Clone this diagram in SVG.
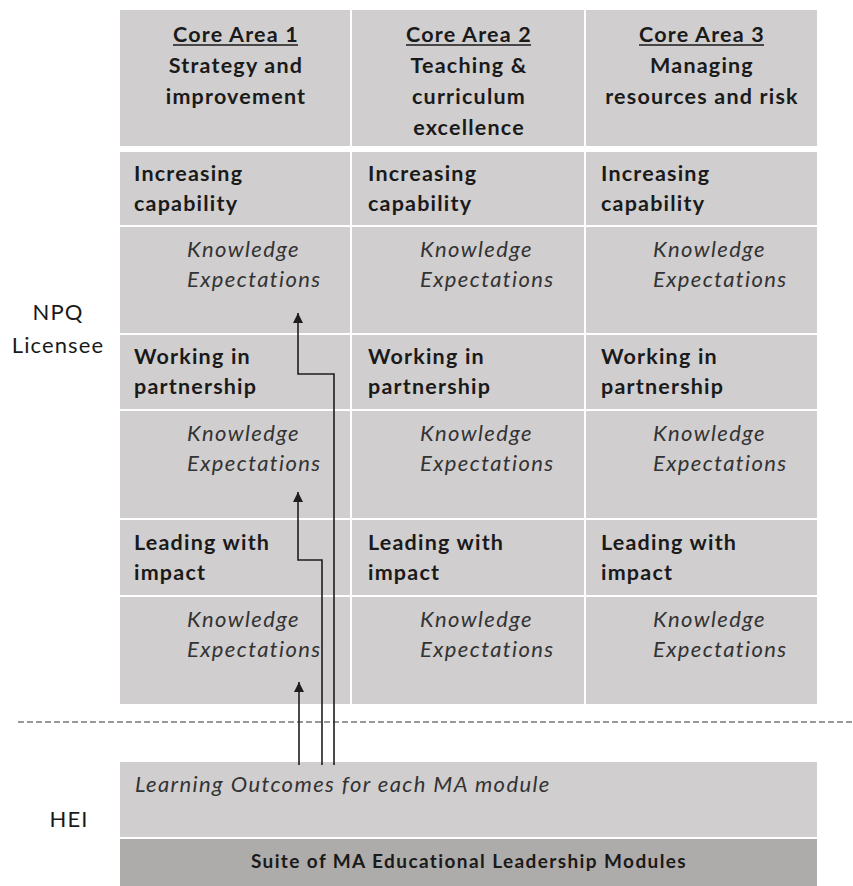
<svg xmlns="http://www.w3.org/2000/svg" width="853" height="886" viewBox="0 0 853 886">
  <style>
    .cell { fill: #d0cecf; }
    .dark { fill: #aeabab; }
    .hd { font-family: Lato, "Liberation Sans", sans-serif; font-weight: bold; font-size: 21.5px; letter-spacing: 1.2px; fill: #1a1a1a; text-anchor: middle; }
    .lbl { font-family: Lato, "Liberation Sans", sans-serif; font-weight: bold; font-size: 21.5px; letter-spacing: 1.2px; fill: #1a1a1a; }
    .ke { font-family: Lato, "Liberation Sans", sans-serif; font-style: italic; font-size: 22px; letter-spacing: 1.4px; fill: #333; }
    .suite { font-family: Lato, "Liberation Sans", sans-serif; font-weight: bold; font-size: 19px; letter-spacing: 1.4px; fill: #1a1a1a; text-anchor: middle; }
    .side { font-family: Lato, "Liberation Sans", sans-serif; font-size: 22px; letter-spacing: 1.1px; fill: #1a1a1a; text-anchor: middle; }
    .ul { stroke: #1a1a1a; stroke-width: 1.5; }
    .conn { fill: none; stroke: #1e1e1e; stroke-width: 1.6; }
    .sep { stroke: #333; stroke-width: 1.2; stroke-dasharray: 6 3; }
  </style>
  <defs>
    <marker id="arrow" markerUnits="userSpaceOnUse" markerWidth="10" markerHeight="10" refX="10" refY="5" orient="auto">
      <path d="M0,0 L10,5 L0,10 z" fill="#1e1e1e"/>
    </marker>
  </defs>
  <rect width="853" height="886" fill="#ffffff"/>

  <!-- side labels -->
  <g id="label-npq">
    <text class="side" x="58" y="320">NPQ</text>
    <text class="side" x="58" y="353">Licensee</text>
  </g>
  <g id="label-hei">
    <text class="side" x="69" y="827">HEI</text>
  </g>

  <!-- header row -->
  <g id="core-area-1">
    <rect class="cell" x="120" y="10" width="230" height="136"/>
    <text class="hd" x="236" y="42">Core Area 1</text>
    <line class="ul" x1="173" y1="45" x2="298" y2="45"/>
    <text class="hd" x="236" y="73">Strategy and</text>
    <text class="hd" x="236" y="104">improvement</text>
  </g>
  <g id="core-area-2">
    <rect class="cell" x="352" y="10" width="232" height="136"/>
    <text class="hd" x="469" y="42">Core Area 2</text>
    <line class="ul" x1="406" y1="45" x2="531" y2="45"/>
    <text class="hd" x="469" y="73">Teaching &amp;</text>
    <text class="hd" x="469" y="104">curriculum</text>
    <text class="hd" x="469" y="135">excellence</text>
  </g>
  <g id="core-area-3">
    <rect class="cell" x="586" y="10" width="231" height="136"/>
    <text class="hd" x="702" y="42">Core Area 3</text>
    <line class="ul" x1="639" y1="45" x2="764" y2="45"/>
    <text class="hd" x="702" y="73">Managing</text>
    <text class="hd" x="702" y="104">resources and risk</text>
  </g>

  <!-- Increasing capability -->
  <g id="ic-1"><rect class="cell" x="120" y="152" width="230" height="73"/>
    <text class="lbl" x="134" y="181">Increasing</text><text class="lbl" x="134" y="211">capability</text></g>
  <g id="ic-2"><rect class="cell" x="352" y="152" width="232" height="73"/>
    <text class="lbl" x="368" y="181">Increasing</text><text class="lbl" x="368" y="211">capability</text></g>
  <g id="ic-3"><rect class="cell" x="586" y="152" width="231" height="73"/>
    <text class="lbl" x="601" y="181">Increasing</text><text class="lbl" x="601" y="211">capability</text></g>
  <g id="ic-ke-1"><rect class="cell" x="120" y="227" width="230" height="106"/>
    <text class="ke" x="187" y="257">Knowledge</text><text class="ke" x="187" y="287">Expectations</text></g>
  <g id="ic-ke-2"><rect class="cell" x="352" y="227" width="232" height="106"/>
    <text class="ke" x="420" y="257">Knowledge</text><text class="ke" x="420" y="287">Expectations</text></g>
  <g id="ic-ke-3"><rect class="cell" x="586" y="227" width="231" height="106"/>
    <text class="ke" x="653" y="257">Knowledge</text><text class="ke" x="653" y="287">Expectations</text></g>

  <!-- Working in partnership -->
  <g id="wp-1"><rect class="cell" x="120" y="335" width="230" height="74"/>
    <text class="lbl" x="134" y="364">Working in</text><text class="lbl" x="134" y="394">partnership</text></g>
  <g id="wp-2"><rect class="cell" x="352" y="335" width="232" height="74"/>
    <text class="lbl" x="368" y="364">Working in</text><text class="lbl" x="368" y="394">partnership</text></g>
  <g id="wp-3"><rect class="cell" x="586" y="335" width="231" height="74"/>
    <text class="lbl" x="601" y="364">Working in</text><text class="lbl" x="601" y="394">partnership</text></g>
  <g id="wp-ke-1"><rect class="cell" x="120" y="411" width="230" height="107"/>
    <text class="ke" x="187" y="441">Knowledge</text><text class="ke" x="187" y="471">Expectations</text></g>
  <g id="wp-ke-2"><rect class="cell" x="352" y="411" width="232" height="107"/>
    <text class="ke" x="420" y="441">Knowledge</text><text class="ke" x="420" y="471">Expectations</text></g>
  <g id="wp-ke-3"><rect class="cell" x="586" y="411" width="231" height="107"/>
    <text class="ke" x="653" y="441">Knowledge</text><text class="ke" x="653" y="471">Expectations</text></g>

  <!-- Leading with impact -->
  <g id="li-1"><rect class="cell" x="120" y="520" width="230" height="75"/>
    <text class="lbl" x="134" y="550">Leading with</text><text class="lbl" x="134" y="580">impact</text></g>
  <g id="li-2"><rect class="cell" x="352" y="520" width="232" height="75"/>
    <text class="lbl" x="368" y="550">Leading with</text><text class="lbl" x="368" y="580">impact</text></g>
  <g id="li-3"><rect class="cell" x="586" y="520" width="231" height="75"/>
    <text class="lbl" x="601" y="550">Leading with</text><text class="lbl" x="601" y="580">impact</text></g>
  <g id="li-ke-1"><rect class="cell" x="120" y="597" width="230" height="107"/>
    <text class="ke" x="187" y="627">Knowledge</text><text class="ke" x="187" y="657">Expectations</text></g>
  <g id="li-ke-2"><rect class="cell" x="352" y="597" width="232" height="107"/>
    <text class="ke" x="420" y="627">Knowledge</text><text class="ke" x="420" y="657">Expectations</text></g>
  <g id="li-ke-3"><rect class="cell" x="586" y="597" width="231" height="107"/>
    <text class="ke" x="653" y="627">Knowledge</text><text class="ke" x="653" y="657">Expectations</text></g>

  <!-- boundary between licensee and HEI -->
  <line class="sep" x1="18" y1="722" x2="853" y2="722"/>

  <!-- HEI blocks -->
  <g id="learning-outcomes">
    <rect class="cell" x="120" y="762" width="697" height="75"/>
    <text class="ke" x="135" y="792">Learning Outcomes for each MA module</text>
  </g>
  <g id="ma-modules">
    <rect class="dark" x="120" y="839" width="697" height="47"/>
    <text class="suite" x="469" y="868">Suite of MA Educational Leadership Modules</text>
  </g>

  <!-- mapping connectors -->
  <g id="connectors">
    <path class="conn" d="M299,765 V682" marker-end="url(#arrow)"/>
    <path class="conn" d="M322,765 V560 H298 V492" marker-end="url(#arrow)"/>
    <path class="conn" d="M334,765 V374 H298 V313" marker-end="url(#arrow)"/>
  </g>
</svg>
